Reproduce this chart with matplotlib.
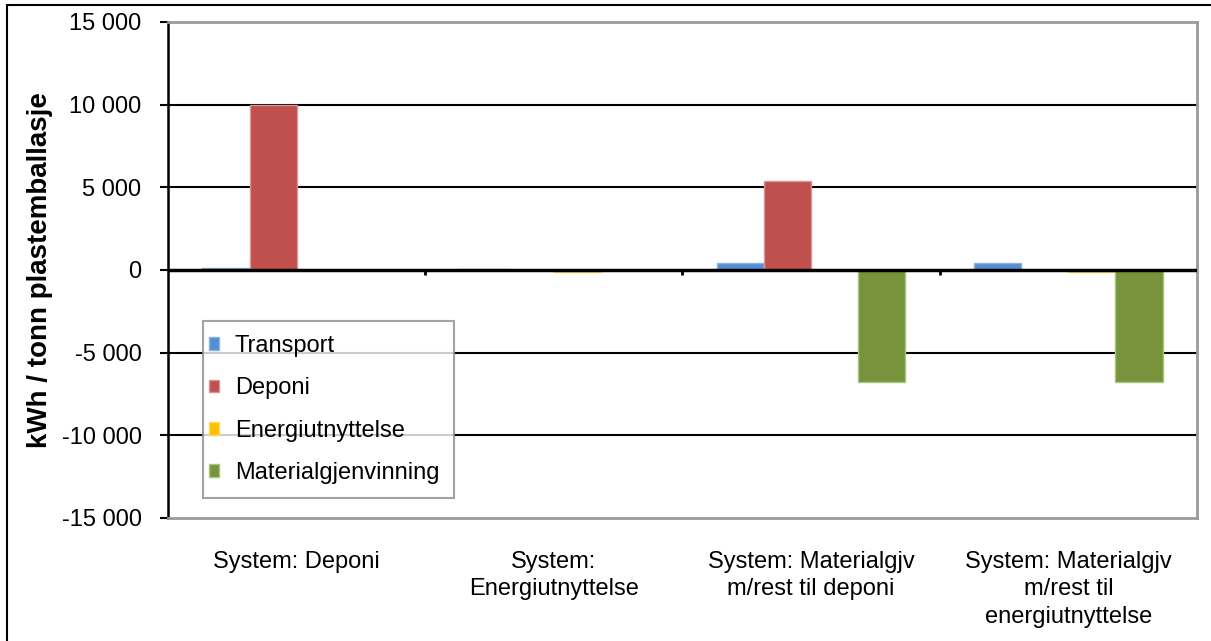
import matplotlib
matplotlib.use('Agg')
import matplotlib.pyplot as plt
from matplotlib.ticker import FuncFormatter
from matplotlib.patches import Rectangle
import numpy as np

# Energy balance per system, kWh per tonne plastic packaging
systems = ['System: Deponi',
           'System:\nEnergiutnyttelse',
           'System: Materialgjv\nm/rest til deponi',
           'System: Materialgjv\nm/rest til\nenergiutnyttelse']
series = ['Transport', 'Deponi', 'Energiutnyttelse', 'Materialgjenvinning']
transport = [150, 50, 450, 450]
deponi = [10000, 0, 5400, 0]
energi = [0, -150, 0, -150]
material = [0, 0, -6750, -6750]
colors = ['#558ED5', '#C0504D', '#FFC000', '#77933C']
edges = ['#8DB3E2', '#D99694', '#FFD966', '#A9C47F']

yticks = [-15000, -10000, -5000, 0, 5000, 10000, 15000]

plt.rcParams['font.family'] = ['Liberation Sans', 'DejaVu Sans']

fig = plt.figure(figsize=(12.11, 6.41), dpi=100)
ax = fig.add_axes([168 / 1211, 1 - 518 / 641, (1197 - 168) / 1211, (518 - 22) / 641])

x = np.arange(len(systems))
w = 0.183
for i, (name, vals) in enumerate(zip(series, [transport, deponi, energi, material])):
    ax.bar(x + (i - 1.5) * w, vals, width=w, color=colors[i], edgecolor=edges[i],
           linewidth=1, label=name, zorder=3)

ax.set_xlim(-0.5, len(systems) - 0.5)
ax.set_ylim(-15000, 15000)
ax.set_yticks(yticks)
ax.yaxis.set_major_formatter(FuncFormatter(lambda v, p: f"{v:,.0f}".replace(",", " ")))
ax.tick_params(axis='y', length=6, width=1.5, pad=13, labelsize=17)

# gridlines and zero line
for v in yticks[1:-1]:
    ax.axhline(v, color='black', lw=2.5 if v == 0 else 1.5, zorder=2 if v else 4)

# category separators on the zero line
bounds = x[:-1] + 0.5
ax.vlines(bounds, -300, 0, color='black', lw=2, zorder=4)

ax.set_xticks(x)
ax.set_xticklabels(systems, fontsize=17, linespacing=1.3)
ax.tick_params(axis='x', length=0, pad=24)

for s in ['top', 'right', 'bottom']:
    ax.spines[s].set_color('#9a9a9a')
    ax.spines[s].set_linewidth(2)
ax.spines['left'].set_linewidth(1.8)

ax.set_ylabel('kWh / tonn plastemballasje', fontsize=20, fontweight='bold')
ax.yaxis.set_label_coords(-115 / 1029, 0.5)

leg = ax.legend(loc='upper left', bbox_to_anchor=(203 / 1211, 1 - 321 / 641),
                bbox_transform=fig.transFigure, fontsize=17, frameon=True, fancybox=False,
                handlelength=0.45, handleheight=0.45, handletextpad=0.3,
                labelspacing=0.86, borderpad=0.6, borderaxespad=0)
leg.get_frame().set_edgecolor('#8c8c8c')
leg.get_frame().set_linewidth(1.5)
leg.set_zorder(5)
for h in leg.legend_handles:
    h.set_x(h.get_x() - 6)

# outer chart frame
fig.patches.append(Rectangle((7 / 1211, -0.01), 1.02, 1 - 5 / 641 + 0.01, transform=fig.transFigure,
                             fill=False, edgecolor='black', lw=1.5))

fig.savefig('out.png', dpi=100)
